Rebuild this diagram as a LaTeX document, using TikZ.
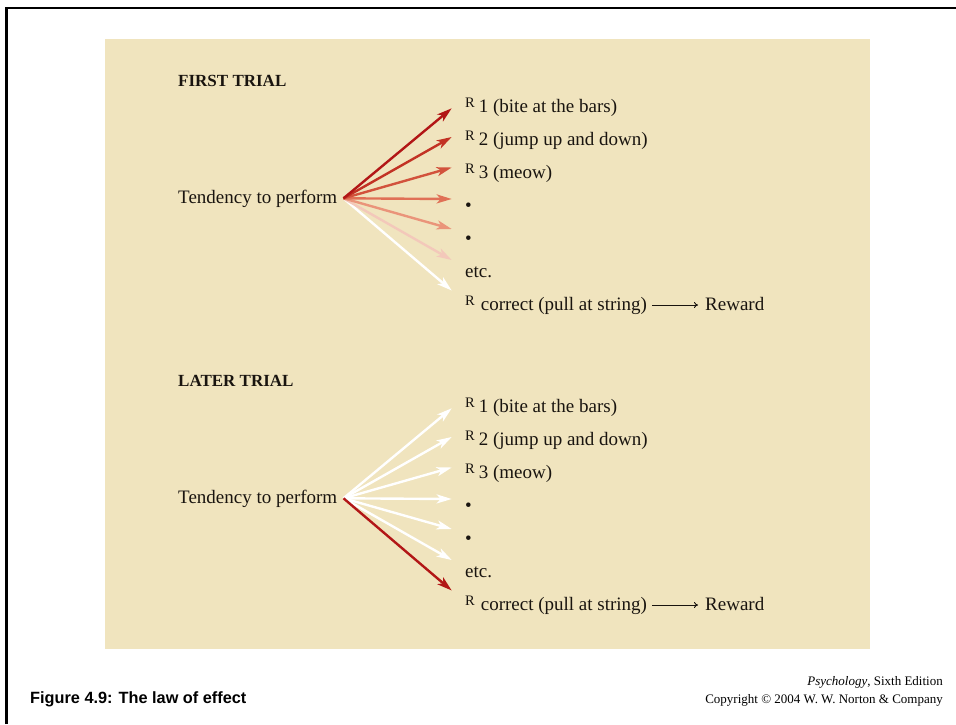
\documentclass[tikz,border=0pt]{standalone}
\usepackage{fontspec}
\setmainfont{Liberation Serif}
\newfontfamily\capfont{Liberation Sans}
\usetikzlibrary{arrows.meta}
\definecolor{bg}{RGB}{240,228,190}
\definecolor{txt}{RGB}{25,20,15}
\definecolor{cA}{RGB}{178,22,22}
\definecolor{cB}{RGB}{194,50,36}
\definecolor{cC}{RGB}{210,82,60}
\definecolor{cD}{RGB}{224,112,86}
\definecolor{cE}{RGB}{234,148,122}
\definecolor{cF}{RGB}{243,200,186}
\newcommand{\smallR}{\raisebox{4.5pt}{\fontsize{14.5}{16}\selectfont R}}
\tikzset{
  maintext/.style={font=\fontsize{19}{22}\selectfont, text=txt, inner sep=0pt, anchor=base west},
  headtext/.style={font=\fontsize{17}{20}\selectfont\bfseries, text=txt, inner sep=0pt, anchor=base west},
  fan/.style={line width=2.4pt, -{Stealth[length=15pt,width=9pt,inset=4pt]}},
  thinarrow/.style={line width=0.9pt, -{To[length=4pt,width=6pt]}, draw=txt},
}
\begin{document}
\begin{tikzpicture}[x=1pt,y=-1pt]
\useasboundingbox (0,0) rectangle (956,724);
\fill[white] (0,0) rectangle (956,724);
\draw[line width=2.5pt] (6.5,724) -- (6.5,8) -- (956,8);
\fill[bg] (105,39) rectangle (870,649);

\foreach \off/\tag/\title in {0/a/FIRST TRIAL, 300/b/LATER TRIAL}{
  \node[headtext] (head\tag) at (178,86+\off) {\title};
  \node[maintext] (tend\tag) at (178,203+\off) {Tendency to perform};
  \coordinate (o\tag) at (343.5,198.3+\off);
  \coordinate (t\tag1) at (451.7,108.3+\off);
  \coordinate (t\tag2) at (451.7,137.0+\off);
  \coordinate (t\tag3) at (451.7,167.5+\off);
  \coordinate (t\tag4) at (451.7,199.0+\off);
  \coordinate (t\tag5) at (451.7,229.0+\off);
  \coordinate (t\tag6) at (451.7,260.0+\off);
  \coordinate (t\tag7) at (451.7,290.5+\off);
  \node[maintext] (r\tag1) at (465,112+\off) {\smallR\hspace{4pt}1 (bite at the bars)};
  \node[maintext] (r\tag2) at (465,145+\off) {\smallR\hspace{4pt}2 (jump up and down)};
  \node[maintext] (r\tag3) at (465,178+\off) {\smallR\hspace{4pt}3 (meow)};
  \node[maintext] (r\tag4) at (465,211+\off) {•};
  \node[maintext] (r\tag5) at (465,244+\off) {•};
  \node[maintext] (r\tag6) at (465,277+\off) {etc.};
  \node[maintext] (r\tag7) at (465,310+\off) {\smallR\hspace{6pt}correct (pull at string)};
  \node[maintext] (rw\tag) at (705,310+\off) {Reward};
  \draw[thinarrow] ([xshift=5pt,yshift=5pt]r\tag7.base east) -- ([xshift=-7pt,yshift=5pt]rw\tag.base west);
}

% first trial fan
\draw[fan, draw=white, fill=white] (oa) -- (ta7);
\draw[fan, draw=cF, fill=cF] (oa) -- (ta6);
\draw[fan, draw=cE, fill=cE] (oa) -- (ta5);
\draw[fan, draw=cD, fill=cD] (oa) -- (ta4);
\draw[fan, draw=cC, fill=cC] (oa) -- (ta3);
\draw[fan, draw=cB, fill=cB] (oa) -- (ta2);
\draw[fan, draw=cA, fill=cA] (oa) -- (ta1);

% later trial fan
\foreach \i in {1,...,6}{
  \draw[fan, draw=white, fill=white] (ob) -- (tb\i);
}
\draw[fan, draw=cA, fill=cA] (ob) -- (tb7);

% caption
\node[font=\capfont\bfseries\fontsize{16.3}{19}\selectfont, inner sep=0pt, anchor=base west] (cap) at (30,703) {Figure 4.9: The law of effect};
\node[font=\fontsize{13}{15}\selectfont, inner sep=0pt, anchor=base east] (ed) at (943,685) {\textit{Psychology}, Sixth Edition};
\node[font=\fontsize{13}{15}\selectfont, inner sep=0pt, anchor=base east] (copy) at (943,703) {Copyright © 2004 W. W. Norton \& Company};
\end{tikzpicture}
\end{document}
